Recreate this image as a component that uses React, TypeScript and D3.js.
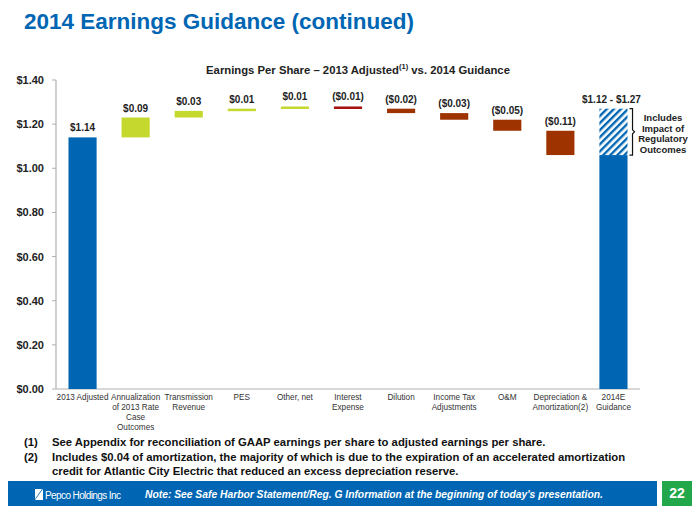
import React from "react";
import * as d3 from "d3";

const categories = [
  ["2013 Adjusted"],
  ["Annualization", "of 2013 Rate", "Case", "Outcomes"],
  ["Transmission", "Revenue"],
  ["PES"],
  ["Other, net"],
  ["Interest", "Expense"],
  ["Dilution"],
  ["Income Tax", "Adjustments"],
  ["O&M"],
  ["Depreciation &", "Amortization(2)"],
  ["2014E", "Guidance"],
];
const startValue = 1.14;
const deltas = [0.09, 0.03, 0.01, 0.01, -0.01, -0.02, -0.03, -0.05, -0.11];
const deltaLabels = ["$0.09", "$0.03", "$0.01", "$0.01", "($0.01)", "($0.02)", "($0.03)", "($0.05)", "($0.11)"];
const guidanceLow = 1.06;
const guidanceHigh = 1.27;
const guidanceLabel = "$1.12 - $1.27";
const startLabel = "$1.14";
const yTicks = [0, 0.2, 0.4, 0.6, 0.8, 1.0, 1.2, 1.4];
const braceText = ["Includes", "Impact of", "Regulatory", "Outcomes"];

const BLUE = "#0066b3";
const GREEN = "#c4d82e";
const RED = "#9e3300";
const CRIMSON = "#a50f0f";
const FONT = "Arial, 'Liberation Sans', sans-serif";

export default function App() {
  const W = 700, H = 518;
  const x = d3.scaleBand<number>().domain(d3.range(categories.length)).range([56, 640]).paddingInner(0.47).paddingOuter(0.235);
  const y = d3.scaleLinear().domain([0, 1.4]).range([389, 80]);
  const bw = x.bandwidth();

  let running = startValue;
  const steps = deltas.map((d, i) => {
    const from = running;
    const to = running + d;
    running = to;
    return { i: i + 1, from, to, d, label: deltaLabels[i] };
  });

  const gx = x(10)!;
  return (
    <svg width={W} height={H} style={{ position: "absolute", left: 0, top: 0, fontFamily: FONT }}>
      <defs>
        <pattern id="hatch" patternUnits="userSpaceOnUse" width="5" height="5" patternTransform="rotate(45)">
          <rect width="5" height="5" fill="white" />
          <rect width="2.4" height="5" fill={BLUE} />
        </pattern>
      </defs>
      <rect width={W} height={H} fill="white" />
      <text x={24} y={29} fill={BLUE} fontSize={22.5} fontWeight="bold">2014 Earnings Guidance (continued)</text>
      <text x={358} y={74} textAnchor="middle" fontSize={11.3} fontWeight="bold" fill="#222">
        Earnings Per Share – 2013 Adjusted<tspan fontSize={7.5} dy={-5}>(1)</tspan><tspan dy={5}> vs. 2014 Guidance</tspan>
      </text>

      {/* axes */}
      <line x1={56} x2={56} y1={80} y2={389} stroke="#b0b0b0" strokeWidth={1.2} />
      <line x1={56} x2={640} y1={389} y2={389} stroke="#b0b0b0" strokeWidth={1.2} />
      {yTicks.map((t) => (
        <g key={t}>
          <line x1={52} x2={56} y1={y(t)} y2={y(t)} stroke="#b0b0b0" />
          <text x={44} y={y(t) + 4} textAnchor="end" fontSize={11} fontWeight="bold" fill="#222">
            ${t.toFixed(2)}
          </text>
        </g>
      ))}

      {/* start bar */}
      <rect x={x(0)} y={y(startValue)} width={bw} height={y(0) - y(startValue)} fill={BLUE} />
      <text x={x(0)! + bw / 2} y={y(startValue) - 6} textAnchor="middle" fontSize={10} fontWeight="bold" fill="#222">{startLabel}</text>

      {steps.map((s) => {
        const top = y(Math.max(s.from, s.to));
        const bot = y(Math.min(s.from, s.to));
        const fill = s.d > 0 ? GREEN : s.i === 5 ? CRIMSON : RED;
        return (
          <g key={s.i}>
            <rect x={x(s.i)} y={top} width={bw} height={Math.max(bot - top, 2.5)} fill={fill} />
            <text x={x(s.i)! + bw / 2} y={top - 6} textAnchor="middle" fontSize={10} fontWeight="bold" fill="#222">{s.label}</text>
          </g>
        );
      })}

      {/* guidance */}
      <rect x={gx} y={y(guidanceLow)} width={bw} height={y(0) - y(guidanceLow)} fill={BLUE} />
      <rect x={gx} y={y(guidanceHigh)} width={bw} height={y(guidanceLow) - y(guidanceHigh)} fill="url(#hatch)" />
      <text x={gx + bw / 2 - 2} y={y(guidanceHigh) - 6} textAnchor="middle" fontSize={10} fontWeight="bold" fill="#222">{guidanceLabel}</text>
      <path
        d={`M${gx + bw + 2},${y(guidanceHigh)} h3 V${(y(guidanceHigh) + y(guidanceLow)) / 2 - 2} l2,2 l-2,2 V${y(guidanceLow)} h-3`}
        fill="none" stroke="#111" strokeWidth={1.2}
      />
      {braceText.map((t, i) => (
        <text key={t} x={663} y={121 + i * 10.5} textAnchor="middle" fontSize={9.5} fontWeight="bold" fill="#222">{t}</text>
      ))}

      {/* category labels */}
      {categories.map((lines, i) => (
        <text key={i} x={x(i)! + bw / 2} y={400} textAnchor="middle" fontSize={8.2} fill="#333">
          {lines.map((l, j) => (
            <tspan key={j} x={x(i)! + bw / 2} dy={j === 0 ? 0 : 10}>{l}</tspan>
          ))}
        </text>
      ))}

      {/* footnotes */}
      <g fontSize={11.3} fontWeight="bold" fill="#111">
        <text x={24} y={446}>(1)</text>
        <text x={52} y={446}>See Appendix for reconciliation of GAAP earnings per share to adjusted earnings per share.</text>
        <text x={24} y={461}>(2)</text>
        <text x={52} y={461}>Includes $0.04 of amortization, the majority of which is due to the expiration of an accelerated amortization</text>
        <text x={52} y={475}>credit for Atlantic City Electric that reduced an excess depreciation reserve.</text>
      </g>

      {/* footer */}
      <rect x={8} y={481} width={649} height={25} fill={BLUE} />
      <rect x={662} y={481} width={30} height={25} fill="#22a84a" />
      <text x={677} y={498} textAnchor="middle" fill="white" fontSize={14} fontWeight="bold">22</text>
      <path d="M35,489 h7 l-7,10 z" fill="white" />
      <path d="M43,489 v11 h-8 z" fill="white" />
      <text x={45} y={498.5} fill="white" fontSize={10} letterSpacing={-0.6}>Pepco Holdings Inc</text>
      <text x={145} y={498} fill="white" fontSize={10.3} fontWeight="bold" fontStyle="italic">
        Note:  See Safe Harbor Statement/Reg. G Information at the beginning of today's presentation.
      </text>
    </svg>
  );
}
